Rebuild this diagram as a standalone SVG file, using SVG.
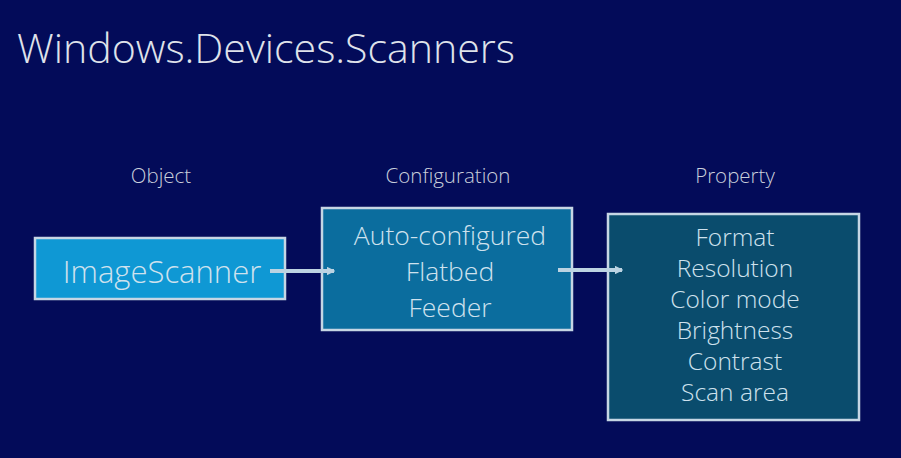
<svg xmlns="http://www.w3.org/2000/svg" width="901" height="458" viewBox="0 0 901 458">
<defs>
<style>
text{font-family:"Open Sans","Noto Sans","Liberation Sans",sans-serif;font-weight:300;text-anchor:middle}
.title{fill:#dfe2ea;font-size:40px;text-anchor:start}
.hdr{fill:#c9cfdc;font-size:20.5px}
.box{stroke:#c6d6e4;stroke-width:2.5}
.in{fill:#cfe2ee}
.conn{stroke:#bcd3e2;stroke-width:4;fill:none}
</style>
<marker id="ah" viewBox="0 0 6 6" refX="5" refY="3" markerWidth="2.2" markerHeight="2.2" orient="auto"><path d="M0,0 L6,3 L0,6 z" fill="#bcd3e2"/></marker>
</defs>
<rect width="901" height="458" fill="#030b59"/>
<text class="title" x="17" y="63" textLength="498" lengthAdjust="spacingAndGlyphs">Windows.Devices.Scanners</text>
<text class="hdr" x="161" y="183">Object</text>
<text class="hdr" x="448" y="183">Configuration</text>
<text class="hdr" x="735" y="183">Property</text>
<g id="object">
<rect class="box" x="35" y="238" width="250" height="61" fill="#0f98d4"/>
<text class="in" x="162" y="283" font-size="31">ImageScanner</text>
</g>
<g id="configuration">
<rect class="box" x="322" y="208" width="250" height="122" fill="#0b6d9e"/>
<text class="in" x="450" y="245" font-size="26.5">Auto-configured</text>
<text class="in" x="450" y="281" font-size="26.5">Flatbed</text>
<text class="in" x="450" y="317" font-size="26.5">Feeder</text>
</g>
<g id="property">
<rect class="box" x="608" y="214" width="251" height="206" fill="#0a4c6d"/>
<g class="in" font-size="24.5">
<text x="735" y="246">Format</text>
<text x="735" y="277">Resolution</text>
<text x="735" y="308">Color mode</text>
<text x="735" y="339">Brightness</text>
<text x="735" y="370">Contrast</text>
<text x="735" y="401">Scan area</text>
</g>
</g>
<g id="connectors">
<path class="conn" d="M270,271 H334" marker-end="url(#ah)"/>
<path class="conn" d="M558,270 H622" marker-end="url(#ah)"/>
</g>
</svg>
